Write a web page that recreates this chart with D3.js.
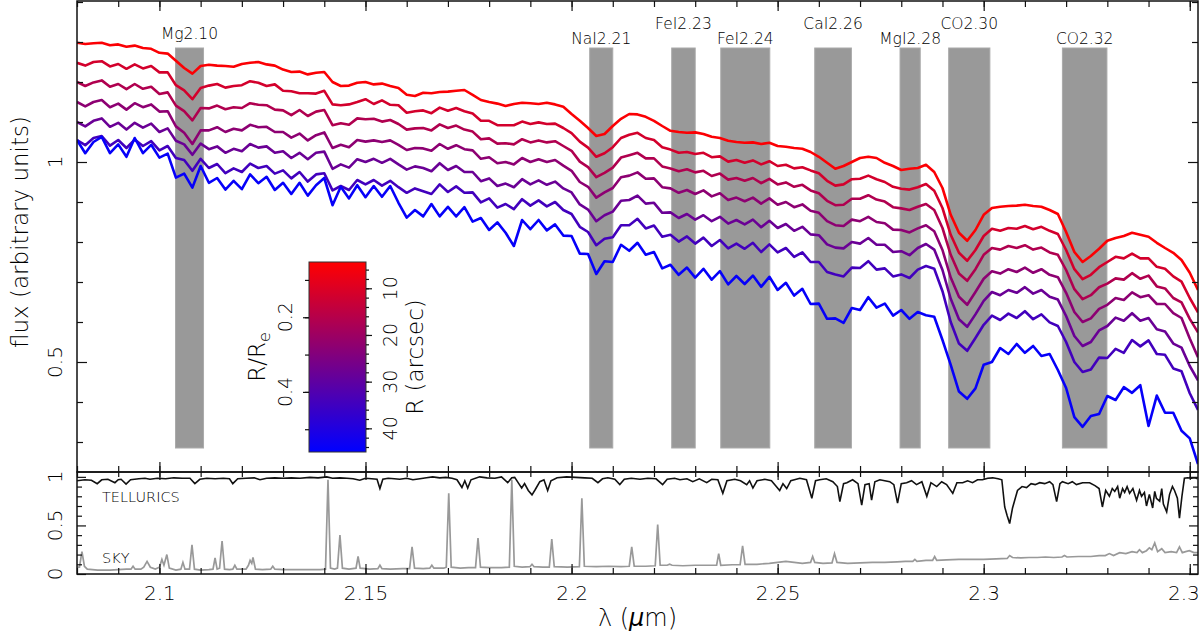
<!DOCTYPE html>
<html>
<head>
<meta charset="utf-8">
<script src="https://cdn.jsdelivr.net/npm/d3@7"></script>
<style>
body{margin:0;background:#fff;}
svg{display:block;font-family:"DejaVu Sans",sans-serif;font-weight:300;}
</style>
</head>
<body>
<svg id="chart" width="1200" height="634"></svg>
<script>
// wavelength grid of the spectra (micron)
const wavelength = d3.range(2.080, 2.3525, 0.002);

// radius of each spectrum (R/Re), inner to outer
const radiusRe = [0.06, 0.14, 0.21, 0.28, 0.35, 0.43, 0.55];

const flux1 = [1.298,1.295,1.297,1.298,1.292,1.294,1.288,1.291,1.285,1.283,
1.273,1.271,1.253,1.235,1.221,1.240,1.243,1.241,1.240,1.238,
1.245,1.248,1.250,1.244,1.241,1.231,1.225,1.226,1.219,1.223,
1.225,1.200,1.190,1.191,1.198,1.200,1.194,1.196,1.190,1.185,
1.168,1.165,1.173,1.172,1.175,1.176,1.178,1.180,1.168,1.155,
1.150,1.146,1.140,1.145,1.148,1.147,1.145,1.148,1.144,1.138,
1.120,1.103,1.085,1.065,1.070,1.090,1.108,1.120,1.119,1.113,
1.103,1.090,1.078,1.075,1.073,1.074,1.070,1.063,1.060,1.053,
1.050,1.048,1.049,1.045,1.048,1.040,1.038,1.035,1.033,1.025,
1.013,0.998,0.983,0.990,1.000,1.010,1.013,1.010,0.998,0.990,
0.980,0.983,0.985,0.993,0.975,0.935,0.868,0.823,0.803,0.830,
0.868,0.885,0.888,0.890,0.891,0.893,0.890,0.888,0.880,0.870,
0.825,0.775,0.750,0.765,0.783,0.803,0.810,0.815,0.823,0.818,
0.813,0.798,0.785,0.773,0.755,0.723,0.680];

const flux2 = [1.248,1.241,1.250,1.252,1.239,1.245,1.233,1.244,1.234,1.240,
1.224,1.224,1.192,1.179,1.157,1.185,1.191,1.195,1.186,1.190,
1.192,1.202,1.198,1.190,1.194,1.178,1.177,1.172,1.172,1.171,
1.178,1.144,1.142,1.144,1.150,1.157,1.145,1.154,1.143,1.142,
1.123,1.127,1.129,1.122,1.136,1.128,1.135,1.127,1.121,1.103,
1.103,1.092,1.092,1.092,1.101,1.095,1.099,1.095,1.096,1.085,
1.072,1.051,1.036,1.013,1.022,1.037,1.060,1.068,1.073,1.060,
1.055,1.037,1.031,1.023,1.025,1.020,1.023,1.012,1.014,1.001,
1.005,0.998,1.004,0.994,1.002,0.990,0.993,0.984,0.987,0.979,
0.972,0.953,0.941,0.944,0.957,0.958,0.966,0.957,0.950,0.938,
0.933,0.931,0.937,0.945,0.928,0.885,0.818,0.773,0.753,0.780,
0.815,0.833,0.828,0.835,0.833,0.840,0.832,0.838,0.828,0.820,
0.780,0.732,0.707,0.718,0.737,0.750,0.763,0.759,0.771,0.759,
0.759,0.738,0.733,0.714,0.701,0.660,0.624];

const flux3 = [1.200,1.190,1.199,1.204,1.188,1.195,1.182,1.195,1.183,1.188,
1.170,1.174,1.141,1.127,1.104,1.135,1.134,1.141,1.132,1.137,
1.135,1.147,1.143,1.142,1.131,1.129,1.117,1.130,1.115,1.126,
1.130,1.092,1.097,1.093,1.109,1.107,1.108,1.101,1.105,1.095,
1.081,1.084,1.085,1.079,1.094,1.085,1.091,1.081,1.076,1.057,
1.059,1.046,1.047,1.044,1.057,1.049,1.054,1.049,1.052,1.040,
1.028,1.001,0.987,0.962,0.973,0.986,1.011,1.017,1.023,1.009,
1.009,0.989,0.984,0.977,0.982,0.974,0.978,0.965,0.971,0.956,
0.960,0.953,0.960,0.947,0.958,0.944,0.949,0.938,0.943,0.929,
0.922,0.903,0.892,0.893,0.908,0.908,0.917,0.906,0.901,0.887,
0.884,0.880,0.888,0.895,0.880,0.835,0.768,0.721,0.703,0.732,
0.768,0.785,0.781,0.790,0.785,0.792,0.781,0.786,0.774,0.768,
0.730,0.682,0.657,0.667,0.687,0.696,0.709,0.706,0.722,0.708,
0.716,0.689,0.684,0.660,0.649,0.608,0.574];

const flux4 = [1.150,1.139,1.150,1.155,1.137,1.146,1.131,1.147,1.137,1.144,
1.126,1.127,1.089,1.073,1.045,1.079,1.079,1.087,1.075,1.083,
1.079,1.093,1.087,1.088,1.075,1.075,1.061,1.071,1.054,1.067,
1.074,1.035,1.043,1.037,1.055,1.051,1.054,1.050,1.054,1.043,
1.030,1.035,1.034,1.028,1.045,1.033,1.042,1.032,1.029,1.008,
1.012,0.997,1.000,0.994,1.010,1.000,1.007,1.000,1.005,0.991,
0.978,0.950,0.938,0.911,0.924,0.935,0.962,0.966,0.974,0.958,
0.959,0.937,0.934,0.923,0.930,0.920,0.929,0.914,0.922,0.905,
0.911,0.902,0.911,0.896,0.909,0.893,0.900,0.887,0.894,0.878,
0.873,0.852,0.842,0.840,0.856,0.852,0.863,0.850,0.847,0.831,
0.830,0.824,0.834,0.842,0.827,0.780,0.711,0.663,0.643,0.675,
0.708,0.727,0.721,0.732,0.725,0.736,0.723,0.732,0.718,0.712,
0.673,0.625,0.600,0.609,0.633,0.643,0.660,0.655,0.674,0.662,
0.667,0.645,0.645,0.622,0.610,0.559,0.512];

const flux5 = [1.100,1.089,1.103,1.109,1.088,1.098,1.081,1.098,1.086,1.096,
1.075,1.084,1.053,1.044,1.018,1.046,1.032,1.039,1.023,1.033,
1.027,1.045,1.036,1.039,1.023,1.027,1.010,1.023,1.007,1.023,
1.026,0.983,0.994,0.986,1.007,1.000,1.008,0.998,1.008,0.994,
0.981,0.989,0.985,0.977,0.997,0.980,0.990,0.975,0.975,0.952,
0.959,0.940,0.946,0.937,0.957,0.944,0.954,0.943,0.951,0.934,
0.924,0.894,0.881,0.852,0.867,0.876,0.903,0.905,0.916,0.896,
0.898,0.873,0.874,0.860,0.870,0.856,0.867,0.852,0.863,0.846,
0.855,0.844,0.856,0.837,0.853,0.835,0.845,0.828,0.838,0.819,
0.817,0.794,0.786,0.784,0.800,0.796,0.810,0.793,0.793,0.775,
0.777,0.767,0.785,0.795,0.781,0.730,0.658,0.607,0.588,0.619,
0.653,0.675,0.667,0.680,0.673,0.687,0.671,0.680,0.663,0.656,
0.615,0.565,0.540,0.550,0.579,0.590,0.611,0.603,0.622,0.603,
0.610,0.582,0.576,0.546,0.536,0.490,0.454];

const flux6 = [1.055,1.042,1.060,1.065,1.041,1.055,1.035,1.056,1.040,1.052,
1.029,1.040,1.010,1.005,0.978,1.008,0.985,0.995,0.972,0.984,
0.975,0.996,0.985,0.990,0.971,0.979,0.959,0.975,0.951,0.969,
0.972,0.929,0.940,0.930,0.955,0.944,0.955,0.941,0.953,0.937,
0.923,0.934,0.927,0.920,0.944,0.925,0.939,0.923,0.924,0.899,
0.909,0.886,0.895,0.882,0.907,0.891,0.904,0.889,0.900,0.880,
0.870,0.838,0.825,0.792,0.808,0.812,0.842,0.842,0.858,0.834,
0.841,0.813,0.818,0.801,0.814,0.796,0.811,0.790,0.805,0.784,
0.796,0.783,0.798,0.775,0.794,0.774,0.785,0.763,0.774,0.750,
0.750,0.725,0.719,0.714,0.736,0.735,0.752,0.731,0.734,0.714,
0.719,0.710,0.731,0.740,0.733,0.677,0.600,0.546,0.528,0.560,
0.593,0.616,0.605,0.621,0.610,0.627,0.607,0.619,0.599,0.590,
0.550,0.500,0.475,0.481,0.511,0.510,0.533,0.523,0.555,0.539,
0.554,0.520,0.518,0.484,0.477,0.422,0.380];

const flux7 = [1.055,1.022,1.050,1.063,1.022,1.044,1.013,1.060,1.022,1.043,
1.011,1.021,0.961,0.971,0.936,0.990,0.948,0.960,0.931,0.953,
0.932,0.969,0.947,0.963,0.930,0.948,0.920,0.948,0.916,0.942,
0.960,0.892,0.938,0.909,0.942,0.912,0.940,0.913,0.940,0.898,
0.861,0.880,0.864,0.895,0.864,0.888,0.864,0.887,0.851,0.860,
0.830,0.849,0.823,0.790,0.855,0.832,0.855,0.829,0.844,0.816,
0.815,0.771,0.770,0.720,0.752,0.750,0.793,0.778,0.798,0.768,
0.775,0.734,0.743,0.718,0.736,0.711,0.733,0.706,0.727,0.694,
0.715,0.695,0.716,0.688,0.713,0.680,0.698,0.666,0.683,0.645,
0.646,0.608,0.609,0.598,0.635,0.630,0.662,0.636,0.646,0.616,
0.630,0.608,0.625,0.617,0.613,0.555,0.493,0.426,0.408,0.434,
0.493,0.500,0.535,0.520,0.545,0.523,0.540,0.515,0.520,0.480,
0.435,0.362,0.338,0.365,0.370,0.415,0.405,0.437,0.423,0.442,
0.340,0.416,0.373,0.373,0.328,0.309,0.245];

// index bands
const bandNames = ['Mg2.10','NaI2.21','FeI2.23','FeI2.24','CaI2.26','MgI2.28','CO2.30','CO2.32'];
const bandLo = [2.1039, 2.2044, 2.2243, 2.2362, 2.2590, 2.2797, 2.2915, 2.3191];
const bandHi = [2.1107, 2.2100, 2.2300, 2.2481, 2.2679, 2.2846, 2.3015, 2.3299];
const bandFluxRange = [0.285, 1.285];

// telluric transmission [lambda, value]
const tellurics = [[2.0800,0.96],[2.0819,0.97],[2.0835,0.965],[2.0849,0.93],[2.0860,0.97],[2.0875,0.975],[2.0892,0.94],[2.0900,0.97],[2.0907,0.975],[2.0919,0.925],[2.0930,0.97],[2.0950,0.98],[2.0965,0.985],[2.0977,0.975],[2.0995,0.985],[2.1015,0.98],[2.1035,0.99],[2.1055,0.985],[2.1074,0.985],[2.1086,0.93],[2.1098,0.975],[2.1115,0.985],[2.1135,0.98],[2.1155,0.985],[2.1170,0.98],[2.1178,0.93],[2.1190,0.98],[2.1210,0.985],[2.1230,0.99],[2.1244,0.97],[2.1260,0.985],[2.1280,0.99],[2.1300,0.985],[2.1320,0.99],[2.1341,0.985],[2.1365,0.995],[2.1385,0.99],[2.1406,1.0],[2.1420,0.985],[2.1438,0.99],[2.1455,0.985],[2.1470,0.98],[2.1486,0.965],[2.1500,0.985],[2.1515,0.98],[2.1528,0.975],[2.1535,0.88],[2.1542,0.975],[2.1555,0.985],[2.1570,0.98],[2.1583,0.975],[2.1600,0.985],[2.1615,0.97],[2.1632,0.98],[2.1648,0.99],[2.1663,1.0],[2.1680,0.99],[2.1695,0.995],[2.1710,0.985],[2.1722,0.97],[2.1734,0.89],[2.1741,0.96],[2.1748,0.885],[2.1756,0.97],[2.1777,1.0],[2.1795,0.99],[2.1814,0.985],[2.1830,1.0],[2.1845,0.94],[2.1855,0.99],[2.1862,0.995],[2.1872,0.93],[2.1879,0.885],[2.1886,0.93],[2.1895,0.86],[2.1904,0.815],[2.1912,0.87],[2.1923,0.95],[2.1933,0.97],[2.1942,0.86],[2.1950,0.96],[2.1965,0.99],[2.1988,1.0],[2.2010,0.995],[2.2032,0.99],[2.2050,0.985],[2.2064,0.94],[2.2075,0.98],[2.2088,0.99],[2.2105,0.975],[2.2117,0.92],[2.2128,0.975],[2.2145,0.985],[2.2166,0.975],[2.2185,0.985],[2.2205,0.98],[2.2221,0.92],[2.2232,0.975],[2.2250,0.985],[2.2263,0.97],[2.2280,0.98],[2.2294,0.95],[2.2310,0.98],[2.2328,0.94],[2.2340,0.975],[2.2355,0.97],[2.2367,0.83],[2.2377,0.96],[2.2396,0.975],[2.2410,0.96],[2.2425,0.92],[2.2432,0.96],[2.2440,0.885],[2.2450,0.96],[2.2469,0.975],[2.2485,0.96],[2.2505,0.86],[2.2513,0.93],[2.2522,0.88],[2.2532,0.96],[2.2554,0.985],[2.2570,0.97],[2.2583,0.78],[2.2592,0.96],[2.2602,0.97],[2.2618,0.98],[2.2634,0.95],[2.2645,0.90],[2.2651,0.746],[2.2660,0.93],[2.2668,0.94],[2.2682,0.97],[2.2695,0.93],[2.2704,0.71],[2.2712,0.92],[2.2722,0.93],[2.2728,0.76],[2.2736,0.95],[2.2748,0.97],[2.2760,0.96],[2.2772,0.95],[2.2782,0.92],[2.2791,0.73],[2.2800,0.93],[2.2813,0.94],[2.2825,0.96],[2.2837,0.92],[2.2850,0.95],[2.2862,0.80],[2.2872,0.94],[2.2886,0.90],[2.2898,0.95],[2.2910,0.92],[2.2925,0.83],[2.2935,0.94],[2.2949,0.94],[2.2961,0.96],[2.2973,0.94],[2.2985,0.97],[2.2997,0.97],[2.3010,0.985],[2.3022,0.99],[2.3035,0.98],[2.3044,0.97],[2.3051,0.69],[2.3057,0.60],[2.3063,0.52],[2.3070,0.68],[2.3082,0.86],[2.3093,0.90],[2.3104,0.89],[2.3115,0.93],[2.3125,0.92],[2.3136,0.94],[2.3148,0.93],[2.3160,0.95],[2.3168,0.92],[2.3177,0.745],[2.3185,0.93],[2.3191,0.95],[2.3205,0.93],[2.3215,0.95],[2.3225,0.92],[2.3240,0.94],[2.3257,0.94],[2.3270,0.91],[2.3280,0.88],[2.3288,0.69],[2.3296,0.86],[2.3305,0.80],[2.3312,0.88],[2.3318,0.85],[2.3325,0.90],[2.3330,0.78],[2.3337,0.88],[2.3342,0.84],[2.3348,0.90],[2.3354,0.83],[2.3362,0.88],[2.3371,0.76],[2.3378,0.86],[2.3383,0.80],[2.3390,0.84],[2.3395,0.70],[2.3402,0.82],[2.3410,0.68],[2.3415,0.85],[2.3419,0.78],[2.3427,0.75],[2.3432,0.88],[2.3436,0.72],[2.3444,0.64],[2.3451,0.82],[2.3458,0.90],[2.3463,0.86],[2.3470,0.78],[2.3475,0.574],[2.3481,0.80],[2.3487,0.985],[2.3495,0.99],[2.3504,0.985],[2.3512,0.99],[2.3519,0.98]];

// sky emission [lambda, value]
const sky = [[2.0800,0.07],[2.0806,0.07],[2.0812,0.23],[2.0818,0.08],[2.0825,0.05],[2.0850,0.04],[2.0880,0.04],[2.0900,0.045],[2.0920,0.05],[2.0931,0.05],[2.0936,0.08],[2.0941,0.05],[2.0955,0.05],[2.0962,0.07],[2.0970,0.13],[2.0978,0.07],[2.0990,0.05],[2.1000,0.07],[2.1006,0.15],[2.1011,0.09],[2.1018,0.20],[2.1024,0.06],[2.1040,0.04],[2.1052,0.05],[2.1057,0.12],[2.1062,0.05],[2.1073,0.05],[2.1079,0.30],[2.1085,0.05],[2.1100,0.04],[2.1120,0.045],[2.1130,0.05],[2.1135,0.165],[2.1140,0.05],[2.1146,0.06],[2.1152,0.34],[2.1158,0.05],[2.1170,0.045],[2.1178,0.05],[2.1183,0.09],[2.1188,0.05],[2.1210,0.05],[2.1216,0.09],[2.1220,0.14],[2.1224,0.11],[2.1227,0.17],[2.1233,0.05],[2.1250,0.045],[2.1270,0.05],[2.1275,0.08],[2.1280,0.05],[2.1300,0.045],[2.1330,0.045],[2.1360,0.045],[2.1390,0.045],[2.1403,0.05],[2.1409,0.97],[2.1415,0.06],[2.1425,0.05],[2.1432,0.06],[2.1438,0.40],[2.1444,0.06],[2.1460,0.05],[2.1477,0.06],[2.1482,0.18],[2.1487,0.06],[2.1510,0.05],[2.1530,0.055],[2.1535,0.09],[2.1540,0.055],[2.1560,0.05],[2.1590,0.055],[2.1607,0.055],[2.1613,0.28],[2.1619,0.06],[2.1640,0.055],[2.1656,0.06],[2.1661,0.09],[2.1666,0.06],[2.1690,0.06],[2.1696,0.07],[2.1702,0.83],[2.1708,0.07],[2.1730,0.06],[2.1750,0.065],[2.1767,0.065],[2.1773,0.37],[2.1779,0.07],[2.1800,0.065],[2.1830,0.065],[2.1849,0.07],[2.1855,0.97],[2.1861,0.08],[2.1880,0.07],[2.1899,0.075],[2.1904,0.10],[2.1909,0.075],[2.1930,0.07],[2.1946,0.07],[2.1952,0.36],[2.1958,0.075],[2.1990,0.07],[2.2019,0.075],[2.2025,0.78],[2.2031,0.08],[2.2060,0.075],[2.2090,0.08],[2.2120,0.075],[2.2140,0.08],[2.2146,0.28],[2.2152,0.08],[2.2180,0.08],[2.2203,0.085],[2.2209,0.51],[2.2215,0.09],[2.2232,0.09],[2.2238,0.10],[2.2244,0.09],[2.2270,0.085],[2.2300,0.09],[2.2330,0.09],[2.2352,0.09],[2.2357,0.21],[2.2362,0.09],[2.2390,0.095],[2.2409,0.095],[2.2415,0.29],[2.2421,0.10],[2.2450,0.10],[2.2480,0.11],[2.2500,0.12],[2.2520,0.13],[2.2540,0.12],[2.2560,0.11],[2.2580,0.12],[2.2585,0.18],[2.2590,0.12],[2.2610,0.11],[2.2632,0.115],[2.2638,0.21],[2.2644,0.12],[2.2670,0.11],[2.2700,0.115],[2.2730,0.12],[2.2760,0.12],[2.2790,0.125],[2.2810,0.13],[2.2828,0.13],[2.2833,0.15],[2.2838,0.13],[2.2860,0.14],[2.2876,0.14],[2.2881,0.18],[2.2886,0.14],[2.2910,0.145],[2.2940,0.15],[2.2970,0.15],[2.3000,0.15],[2.3030,0.155],[2.3057,0.16],[2.3063,0.19],[2.3070,0.17],[2.3090,0.165],[2.3110,0.17],[2.3130,0.17],[2.3150,0.175],[2.3170,0.17],[2.3190,0.175],[2.3196,0.19],[2.3202,0.175],[2.3230,0.18],[2.3260,0.18],[2.3280,0.19],[2.3295,0.19],[2.3305,0.21],[2.3315,0.19],[2.3330,0.22],[2.3345,0.21],[2.3360,0.23],[2.3372,0.22],[2.3378,0.25],[2.3385,0.22],[2.3395,0.24],[2.3402,0.27],[2.3408,0.25],[2.3415,0.32],[2.3422,0.23],[2.3432,0.26],[2.3440,0.22],[2.3455,0.23],[2.3468,0.22],[2.3475,0.28],[2.3482,0.22],[2.3490,0.23],[2.3499,0.24],[2.3510,0.22],[2.3520,0.22]];

// ticks
const xMajor = [2.1, 2.15, 2.2, 2.25, 2.3, 2.35];
const xMinor = d3.range(2.08, 2.355, 0.01);
const fluxMajor = [0.5, 1];
const fluxMinor = [0.3, 0.4, 0.6, 0.7, 0.8, 0.9, 1.1, 1.2, 1.3, 1.4];
const lowMajor = [0, 0.5, 1];
const lowMinor = [0.1, 0.2, 0.3, 0.4, 0.6, 0.7, 0.8, 0.9];
const reTicks = [0.1, 0.2, 0.3, 0.4, 0.5];
const reLabels = [0.2, 0.4];
const arcMajor = [10, 20, 30, 40];
const arcMinor = d3.range(6, 45, 2);

// ---------------- layout
const padL = 77, padR = 1198, panelTop = 1, panelMid = 472, panelBot = 574;
const cbX = 309, cbW = 57, cbTop = 262, cbBot = 452;
const ink = '#000';

const x = d3.scaleLinear().domain([2.08, 2.352]).range([padL, padR]);
const yTop = d3.scaleLinear().domain([0.225, 1.4025]).range([panelMid, panelTop]);
const yLow = d3.scaleLinear().domain([0, 1.05]).range([panelBot, panelMid]);
const cbRe = d3.scaleLinear().domain([0.052, 0.561]).range([cbTop, cbBot]);
const cbArc = d3.scaleLinear().domain([4.37, 45.07]).range([cbTop, cbBot]);
const color = d3.scaleLinear().domain([0.052, 0.561]).range(['#ff0000', '#0000ff']).interpolate(d3.interpolateRgb);

const svg = d3.select('#chart');
const defs = svg.append('defs');
defs.append('clipPath').attr('id', 'clipTop').append('rect')
	.attr('x', padL).attr('y', panelTop).attr('width', padR - padL).attr('height', panelMid - panelTop);
defs.append('clipPath').attr('id', 'clipLow').append('rect')
	.attr('x', padL).attr('y', panelMid).attr('width', padR - padL).attr('height', panelBot - panelMid);

// bands
const bands = bandNames.map((n, i) => ({name: n, lo: bandLo[i], hi: bandHi[i]}));
svg.append('g').selectAll('rect').data(bands).join('rect')
	.attr('x', d => x(d.lo))
	.attr('width', d => x(d.hi) - x(d.lo))
	.attr('y', yTop(bandFluxRange[1]))
	.attr('height', yTop(bandFluxRange[0]) - yTop(bandFluxRange[1]))
	.attr('fill', '#999999')
	.attr('stroke', '#aaaaaa').attr('stroke-width', 1);

const labelY = [39, 44, 29, 44, 29, 44, 29, 44];
svg.append('g').selectAll('text').data(bands).join('text')
	.attr('x', d => x((d.lo + d.hi) / 2))
	.attr('y', (d, i) => labelY[i])
	.attr('text-anchor', 'middle')
	.attr('font-size', '15.5px')
	.attr('fill', ink)
	.text(d => d.name);

// spectra
const spectra = [flux1, flux2, flux3, flux4, flux5, flux6, flux7];
const specLine = d3.line()
	.x((d, i) => x(wavelength[i]))
	.y(d => yTop(d));
const gSpec = svg.append('g').attr('clip-path', 'url(#clipTop)');
spectra.forEach((s, j) => {
	gSpec.append('path')
		.attr('d', specLine(s))
		.attr('fill', 'none')
		.attr('stroke', color(radiusRe[j]))
		.attr('stroke-width', 2.6)
		.attr('stroke-linejoin', 'round');
});

// lower panel
const lowLine = d3.line().x(d => x(d[0])).y(d => yLow(d[1]));
const gLow = svg.append('g').attr('clip-path', 'url(#clipLow)');
gLow.append('path').attr('d', lowLine(sky))
	.attr('fill', 'none').attr('stroke', '#999999').attr('stroke-width', 1.7);
gLow.append('path').attr('d', lowLine(tellurics))
	.attr('fill', 'none').attr('stroke', '#111').attr('stroke-width', 1.6);

svg.append('text').attr('x', 102).attr('y', 502).attr('font-size', '14.5px').attr('fill', ink).text('TELLURICS');
svg.append('text').attr('x', 102).attr('y', 563).attr('font-size', '14.5px').attr('fill', ink).text('SKY');

// axes
function addAxis(axis, tx, ty){
	let g = svg.append('g').attr('transform', `translate(${tx},${ty})`).call(axis);
	g.select('.domain').remove();
	g.selectAll('line').attr('stroke', '#111').attr('stroke-width', 1.2);
	return g;
}
const noLab = () => '';
addAxis(d3.axisTop(x).tickValues(xMinor).tickSize(-6).tickFormat(noLab), 0, panelTop);
addAxis(d3.axisTop(x).tickValues(xMajor).tickSize(-10).tickFormat(noLab), 0, panelTop);
addAxis(d3.axisBottom(x).tickValues(xMinor).tickSize(-6).tickFormat(noLab), 0, panelMid);
addAxis(d3.axisBottom(x).tickValues(xMajor).tickSize(-10).tickFormat(noLab), 0, panelMid);
addAxis(d3.axisTop(x).tickValues(xMinor).tickSize(-5).tickFormat(noLab), 0, panelMid);
addAxis(d3.axisTop(x).tickValues(xMajor).tickSize(-8).tickFormat(noLab), 0, panelMid);
addAxis(d3.axisBottom(x).tickValues(xMinor).tickSize(-6).tickFormat(noLab), 0, panelBot);
let gx = addAxis(d3.axisBottom(x).tickValues(xMajor).tickSize(-10).tickPadding(12).tickFormat(d => String(d)), 0, panelBot);
gx.selectAll('text').attr('font-size', '20px').attr('font-family', '"DejaVu Sans",sans-serif').attr('font-weight', 300).attr('fill', ink);

addAxis(d3.axisLeft(yTop).tickValues(fluxMinor).tickSize(-6).tickFormat(noLab), padL, 0);
addAxis(d3.axisLeft(yTop).tickValues(fluxMajor).tickSize(-10).tickFormat(noLab), padL, 0);
addAxis(d3.axisRight(yTop).tickValues(fluxMinor).tickSize(-6).tickFormat(noLab), padR, 0);
addAxis(d3.axisRight(yTop).tickValues(fluxMajor).tickSize(-10).tickFormat(noLab), padR, 0);
addAxis(d3.axisLeft(yLow).tickValues(lowMinor).tickSize(-5).tickFormat(noLab), padL, 0);
addAxis(d3.axisLeft(yLow).tickValues(lowMajor).tickSize(-9).tickFormat(noLab), padL, 0);
addAxis(d3.axisRight(yLow).tickValues(lowMinor).tickSize(-5).tickFormat(noLab), padR, 0);
addAxis(d3.axisRight(yLow).tickValues(lowMajor).tickSize(-9).tickFormat(noLab), padR, 0);

// frames
svg.append('rect').attr('x', padL).attr('y', panelTop).attr('width', padR - padL).attr('height', panelMid - panelTop)
	.attr('fill', 'none').attr('stroke', '#111').attr('stroke-width', 1.5);
svg.append('rect').attr('x', padL).attr('y', panelMid).attr('width', padR - padL).attr('height', panelBot - panelMid)
	.attr('fill', 'none').attr('stroke', '#111').attr('stroke-width', 1.5);

function vText(px, py, size, str){
	return svg.append('text')
		.attr('transform', `translate(${px},${py}) rotate(-90)`)
		.attr('text-anchor', 'middle')
		.attr('font-size', size)
		.attr('fill', ink)
		.text(str);
}
fluxMajor.forEach(v => vText(62, yTop(v), '20px', String(v)));
lowMajor.forEach(v => vText(62, yLow(v), '20px', String(v)));
vText(28, 232, '23px', 'flux (arbitrary units)');

let xt = svg.append('text').attr('x', (padL + padR) / 2).attr('y', 626)
	.attr('text-anchor', 'middle').attr('font-size', '24px').attr('fill', ink);
xt.append('tspan').text('\u03bb (');
xt.append('tspan').attr('font-style', 'italic').text('\u03bc');
xt.append('tspan').text('m)');

// colour bar
const grad = defs.append('linearGradient').attr('id', 'cbGrad')
	.attr('x1', 0).attr('y1', 0).attr('x2', 0).attr('y2', 1);
d3.range(0, 1.0001, 0.1).forEach(t => {
	grad.append('stop').attr('offset', t)
		.attr('stop-color', color(cbRe.invert(cbTop + t * (cbBot - cbTop))));
});
svg.append('rect').attr('x', cbX).attr('y', cbTop).attr('width', cbW).attr('height', cbBot - cbTop)
	.attr('fill', 'url(#cbGrad)').attr('stroke', '#333').attr('stroke-width', 1);

addAxis(d3.axisLeft(cbRe).tickValues(reTicks).tickSize(4).tickFormat(noLab), cbX, 0);
addAxis(d3.axisLeft(cbRe).tickValues(reLabels).tickSize(6).tickFormat(noLab), cbX, 0);
addAxis(d3.axisRight(cbArc).tickValues(arcMinor).tickSize(3).tickFormat(noLab), cbX + cbW, 0);
addAxis(d3.axisRight(cbArc).tickValues(arcMajor).tickSize(6).tickFormat(noLab), cbX + cbW, 0);

reLabels.forEach(v => vText(292, cbRe(v), '19px', String(v)));
arcMajor.forEach(v => vText(397, cbArc(v), '19px', String(v)));

let reT = svg.append('text')
	.attr('transform', `translate(265,${(cbTop + cbBot) / 2}) rotate(-90)`)
	.attr('text-anchor', 'middle').attr('font-size', '23px').attr('fill', ink);
reT.append('tspan').text('R/R');
reT.append('tspan').attr('font-size', '16px').attr('dy', '5').text('e');
vText(423, (cbTop + cbBot) / 2, '23px', 'R (arcsec)');
</script>
</body>
</html>
